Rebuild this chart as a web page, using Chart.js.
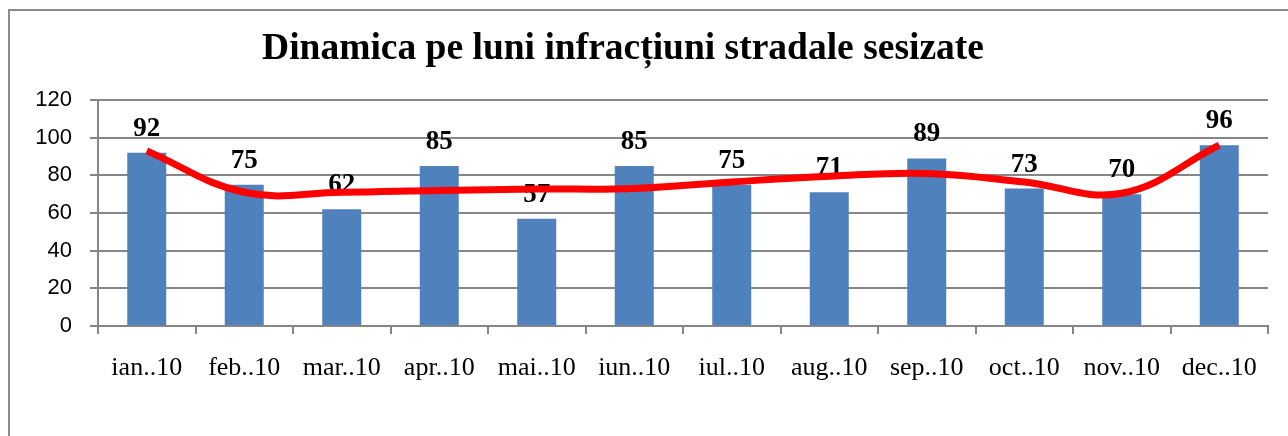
<!DOCTYPE html>
<html>
<head>
<meta charset="utf-8">
<script src="https://cdn.jsdelivr.net/npm/chart.js@4/dist/chart.umd.min.js"></script>
<style>
    body { margin: 0; background: #fff; overflow: hidden; }
    #frame { position: absolute; left: 8px; top: 9px; width: 1300px; height: 440px; border-top: 2px solid #8c8c8c; border-left: 2px solid #8c8c8c; }
    #chart { position: absolute; left: 0; top: 0; }
</style>
</head>
<body>
<div id="frame"></div>
<canvas id="chart" width="1288" height="436"></canvas>
<script>
const chartTitle = 'Dinamica pe luni infracțiuni stradale sesizate';
const months = ['ian..10', 'feb..10', 'mar..10', 'apr..10', 'mai..10', 'iun..10', 'iul..10', 'aug..10', 'sep..10', 'oct..10', 'nov..10', 'dec..10'];
const counts = [92, 75, 62, 85, 57, 85, 75, 71, 89, 73, 70, 96];
// red trend line at each month
const trend = [93, 71, 71, 72, 72.7, 73, 76.5, 79.5, 81, 76.5, 70.5, 96];

const gridColor = '#868686';

const titlePlugin = {
    id: 'titleText',
    beforeDraw(chart) {
        const ctx = chart.ctx;
        ctx.save();
        ctx.font = 'bold 37.5px "Liberation Serif"';
        ctx.fillStyle = '#000';
        ctx.textAlign = 'center';
        ctx.textBaseline = 'alphabetic';
        ctx.fillText(chartTitle, 623, 59);
        ctx.restore();
    },
};

const barLabels = {
    id: 'barLabels',
    afterDatasetDraw(chart, args) {
        if (args.index !== 0) return;
        const ctx = chart.ctx;
        ctx.save();
        ctx.font = 'bold 27px "Liberation Serif"';
        ctx.fillStyle = '#000';
        ctx.textAlign = 'center';
        ctx.textBaseline = 'alphabetic';
        args.meta.data.forEach((bar, i) => {
            ctx.fillText(String(counts[i]), bar.x, bar.y - 17);
        });
        ctx.restore();
    },
};

new Chart(document.getElementById('chart'), {
    type: 'bar',
    data: {
        labels: months,
        datasets: [
            {
                type: 'bar',
                data: counts,
                backgroundColor: '#4f81bd',
                categoryPercentage: 1,
                barPercentage: 0.4,
                order: 1,
            },
            {
                type: 'line',
                data: trend,
                borderColor: '#ff0000',
                borderWidth: 7,
                pointRadius: 0,
                tension: 0.4,
                order: 0,
            },
        ],
    },
    options: {
        responsive: false,
        animation: false,
        devicePixelRatio: 1,
        layout: { padding: { left: 0, right: 20, top: 100, bottom: 0 } },
        plugins: {
            legend: { display: false },
            tooltip: { enabled: false },
        },
        scales: {
            x: {
                grid: { drawOnChartArea: false, offset: true, tickLength: 8, color: gridColor, lineWidth: 2 },
                border: { color: gridColor, width: 2 },
                ticks: { color: '#000', font: { family: 'Liberation Serif', size: 26 }, padding: 19, maxRotation: 0 },
                afterFit(scale) { scale.height = 110; },
            },
            y: {
                min: 0,
                max: 120,
                ticks: { stepSize: 20, color: '#000', font: { family: 'Liberation Sans', size: 22 }, padding: 18 },
                grid: { color: gridColor, lineWidth: 2, tickLength: 8 },
                border: { color: gridColor, width: 2 },
                afterFit(scale) { scale.width = 98; },
            },
        },
    },
    plugins: [titlePlugin, barLabels],
});
</script>
</body>
</html>
